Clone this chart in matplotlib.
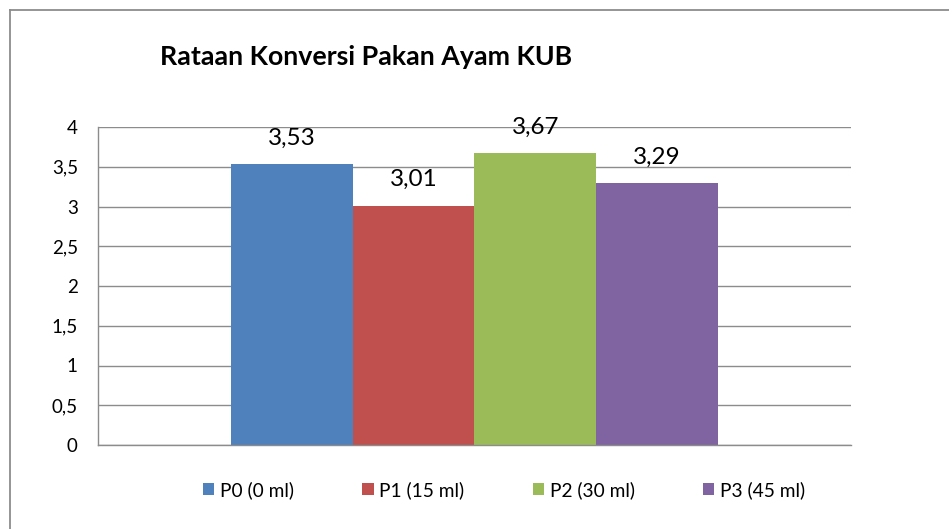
import matplotlib.pyplot as plt
from matplotlib.lines import Line2D

plt.rcParams["font.family"] = ["Lato", "DejaVu Sans"]

# values
series = ["P0 (0 ml)", "P1 (15 ml)", "P2 (30 ml)", "P3 (45 ml)"]
values = [3.53, 3.01, 3.67, 3.29]
colors = ["#4F81BD", "#C0504D", "#9BBB59", "#8064A2"]
yticks = [0, 0.5, 1, 1.5, 2, 2.5, 3, 3.5, 4]
title = "Rataan Konversi Pakan Ayam KUB"


def comma(v):
    s = f"{v:g}"
    return s.replace(".", ",")


fig = plt.figure(figsize=(9.49, 5.29), dpi=100)
ax = fig.add_axes([98 / 949, 1 - 445 / 529, 753 / 949, 318 / 529])

# outer chart border: only left and top edges are inside the crop
bx, by = 9.5 / 949, 1 - 9.5 / 529
fig.lines.append(Line2D([bx, bx], [0, by], transform=fig.transFigure,
                        color="#8C8C8C", lw=1.3))
fig.lines.append(Line2D([bx, 1.05], [by, by], transform=fig.transFigure,
                        color="#8C8C8C", lw=1.3))

for i, (name, v, c) in enumerate(zip(series, values, colors)):
    ax.bar(i, v, width=1.0, color=c, label=name, zorder=2)
    ax.annotate(comma(v), (i, v), xytext=(0, 19), textcoords="offset points",
                ha="center", va="center", fontsize=17.5, zorder=3)

ax.set_xlim(-1.592, 4.592)
ax.set_ylim(0, 4)
ax.set_yticks(yticks)
ax.set_yticklabels([comma(t) for t in yticks], fontsize=13.5)
ax.set_xticks([])
ax.tick_params(axis="y", length=0, pad=14.5)
ax.grid(axis="y", color="#8C8C8C", lw=1.0, zorder=1)
for side in ("top", "right"):
    ax.spines[side].set_visible(False)
for side in ("left", "bottom"):
    ax.spines[side].set_color("#8C8C8C")
    ax.spines[side].set_linewidth(1.0)

fig.text(366 / 949, 1 - 57 / 529, title, ha="center", va="center",
         fontsize=19.3, fontweight="bold")

leg = ax.legend(loc="center", bbox_to_anchor=(504 / 949, 1 - 490 / 529),
                bbox_transform=fig.transFigure, ncol=4, frameon=False,
                fontsize=13.8, handlelength=0.6, handleheight=0.6,
                handletextpad=0.3, columnspacing=3.55)

fig.savefig("out.png", dpi=100)
